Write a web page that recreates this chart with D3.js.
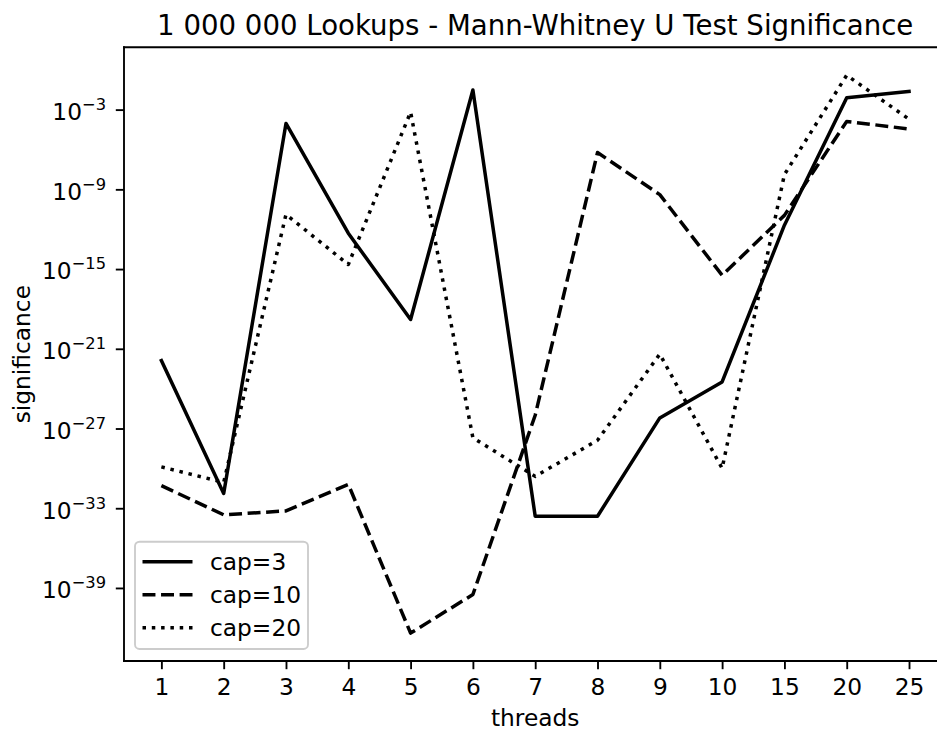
<!DOCTYPE html>
<html>
<head>
<meta charset="utf-8">
<script src="https://cdn.jsdelivr.net/npm/d3@7"></script>
<style>
  html, body { margin: 0; padding: 0; background: #fff; }
  svg { display: block; font-family: "DejaVu Sans", sans-serif; }
</style>
</head>
<body>
<svg id="chart" width="937" height="733"></svg>
<script>
const categories = ["1","2","3","4","5","6","7","8","9","10","15","20","25"];
const cap3 = [1.3e-22, 1.3e-32, 9.1e-5, 5.0e-13, 1.6e-19, 3.0e-2, 2.5e-34, 2.5e-34, 6.3e-27, 3.2e-24, 2.0e-12, 7.8e-3, 2.3e-2];
const cap10 = [5.0e-32, 3.2e-34, 6.3e-34, 6.3e-32, 4.0e-43, 3.2e-40, 1.0e-26, 5.9e-7, 4.0e-10, 3.4e-16, 1.1e-11, 1.3e-4, 3.5e-5];
const cap20 = [1.3e-30, 8.7e-32, 1.3e-11, 2.2e-15, 6.5e-4, 2.0e-28, 2.5e-31, 1.3e-28, 4.0e-22, 1.0e-30, 1.3e-8, 3.9e-1, 1.9e-4];
const seriesNames = ["cap=3", "cap=10", "cap=20"];
const yTickExponents = [-3, -9, -15, -21, -27, -33, -39];
const title = "1 000 000 Lookups - Mann-Whitney U Test Significance";
const xLabel = "threads";
const yLabel = "significance";

(function () {
const series = [
  { name: seriesNames[0], values: cap3, dash: null },
  { name: seriesNames[1], values: cap10, dash: "12.95,5.6" },
  { name: seriesNames[2], values: cap20, dash: "3.5,5.8" }
];

const svg = d3.select("#chart");
const pL = 124, pR = 946.4, pT = 47.3, pB = 661;
const fs = 23.3;
const lw = 3.5, sw = 1.87, tl = 8.2;

const x = d3.scalePoint().domain(categories).range([pL, pR]).padding(0.6);

const allLog = [...cap3, ...cap10, ...cap20].map(v => Math.log10(v));
const lo = d3.min(allLog), hi = d3.max(allLog);
const pad = (hi - lo) * 0.05;
const y = d3.scaleLog().domain([Math.pow(10, lo - pad), Math.pow(10, hi + pad)]).range([pB, pT]);

// lines
const line = d3.line().x((d, i) => x(categories[i])).y(d => y(d));
series.forEach(s => {
  svg.append("path")
    .datum(s.values)
    .attr("d", line)
    .attr("fill", "none")
    .attr("stroke", "#000")
    .attr("stroke-width", lw)
    .attr("stroke-linejoin", "round")
    .attr("stroke-linecap", s.dash ? "butt" : "square")
    .attr("stroke-dasharray", s.dash);
});

// x axis
const xAxis = d3.axisBottom(x).tickSize(tl).tickPadding(tl).tickSizeOuter(0);
const gx = svg.append("g").attr("transform", `translate(0,${pB})`).call(xAxis);
gx.select(".domain").attr("stroke-width", sw).attr("d", `M${pL - sw / 2},0H${pR}`);
gx.selectAll(".tick line").attr("stroke-width", sw);
gx.selectAll(".tick text").attr("font-size", fs).attr("font-family", "DejaVu Sans").attr("fill", "#000").attr("dy", "0.74em");

// y axis
const yAxis = d3.axisLeft(y).tickValues(yTickExponents.map(e => Math.pow(10, e))).tickSize(tl).tickPadding(tl).tickSizeOuter(0).tickFormat("");
const gy = svg.append("g").attr("transform", `translate(${pL},0)`).call(yAxis);
gy.select(".domain").attr("stroke-width", sw).attr("d", `M0,${pB + sw / 2}V${pT - sw / 2}`);
gy.selectAll(".tick line").attr("stroke-width", sw);
gy.selectAll(".tick").each(function(d, i) {
  const t = d3.select(this).append("text")
    .attr("x", -18).attr("y", 9.8)
    .attr("text-anchor", "end")
    .attr("font-size", fs)
    .attr("font-family", "DejaVu Sans")
    .attr("fill", "#000");
  t.append("tspan").text("10");
  t.append("tspan").attr("dy", -10).attr("font-size", 16.3).text("\u2212" + Math.abs(yTickExponents[i]));
});

// top spine
svg.append("line").attr("x1", pL - sw / 2).attr("x2", pR).attr("y1", pT).attr("y2", pT)
  .attr("stroke", "#000").attr("stroke-width", sw);

// title and labels
svg.append("text").attr("x", (pL + pR) / 2).attr("y", 34.5).attr("text-anchor", "middle")
  .attr("font-size", 27.6).attr("fill", "#000").text(title);
svg.append("text").attr("x", (pL + pR) / 2).attr("y", 726).attr("text-anchor", "middle")
  .attr("font-size", fs).attr("fill", "#000").text(xLabel);
svg.append("text").attr("transform", `translate(30,${(pT + pB) / 2}) rotate(-90)`).attr("text-anchor", "middle")
  .attr("font-size", fs).attr("fill", "#000").text(yLabel);

// legend
const lg = svg.append("g");
lg.append("rect").attr("x", 135).attr("y", 541.7).attr("width", 173).attr("height", 107.3)
  .attr("rx", 4.5).attr("ry", 4.5)
  .attr("fill", "#fff").attr("fill-opacity", 0.8).attr("stroke", "#cccccc").attr("stroke-width", sw);
series.forEach((s, i) => {
  const cy = 561.7 + i * 33;
  lg.append("line").attr("x1", 142.5).attr("x2", 192.5).attr("y1", cy).attr("y2", cy)
    .attr("stroke", "#000").attr("stroke-width", lw)
    .attr("stroke-dasharray", s.dash).attr("stroke-linecap", "butt");
  lg.append("text").attr("x", 210).attr("y", cy + 8.3).attr("font-size", fs).attr("fill", "#000").text(s.name);
});
})();
</script>
</body>
</html>
